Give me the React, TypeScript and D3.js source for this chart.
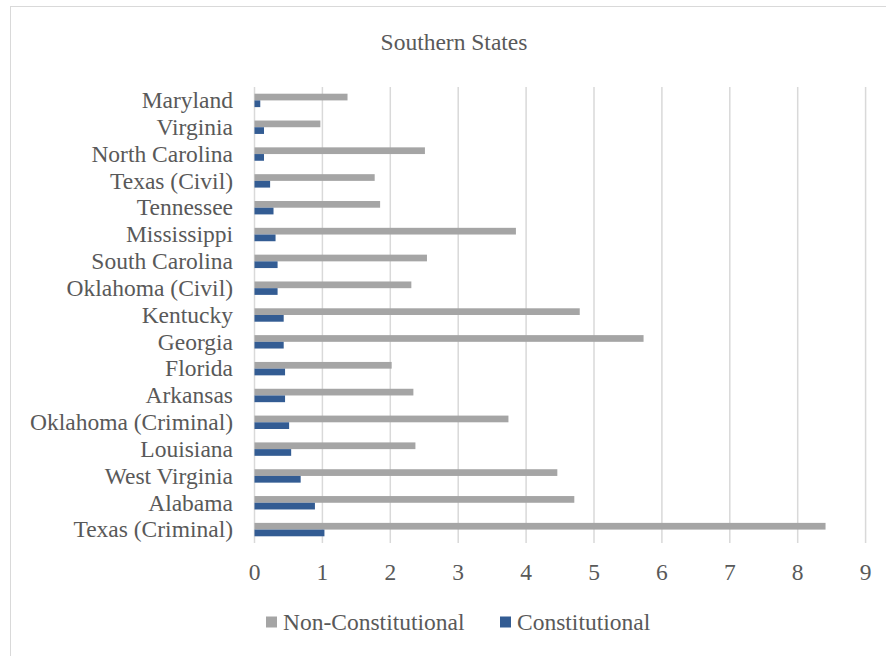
import React, { useRef, useEffect } from 'react';
import * as d3 from 'd3';

// categories listed top to bottom
const states = [
  'Maryland', 'Virginia', 'North Carolina', 'Texas (Civil)', 'Tennessee',
  'Mississippi', 'South Carolina', 'Oklahoma (Civil)', 'Kentucky', 'Georgia',
  'Florida', 'Arkansas', 'Oklahoma (Criminal)', 'Louisiana', 'West Virginia',
  'Alabama', 'Texas (Criminal)'
];
const nonConstitutional = [
  1.37, 0.97, 2.51, 1.77, 1.85, 3.85, 2.54, 2.31, 4.79, 5.73,
  2.02, 2.34, 3.74, 2.37, 4.46, 4.71, 8.41
];
const constitutional = [
  0.085, 0.14, 0.14, 0.23, 0.28, 0.31, 0.34, 0.34, 0.43, 0.43,
  0.45, 0.45, 0.51, 0.54, 0.68, 0.89, 1.03
];
const xTicks = [0, 1, 2, 3, 4, 5, 6, 7, 8, 9];
const seriesNames = ['Non-Constitutional', 'Constitutional'];
const seriesColors = ['#A5A5A5', '#335C93'];

const App = () => {
  const svgRef = useRef<SVGSVGElement>(null);
  const W = 886, H = 656;
  const font = '"Liberation Serif", "Times New Roman", serif';
  const fs = 23.5;

  useEffect(() => {
    const svg = d3.select(svgRef.current);
    svg.selectAll('*').remove();

    // chart frame (only top/left edges visible in the crop)
    svg.append('rect')
      .attr('x', 10.5).attr('y', 6.5)
      .attr('width', W + 20).attr('height', H + 20)
      .attr('fill', 'white').attr('stroke', '#D9D9D9').attr('stroke-width', 1);

    const x = d3.scaleLinear().domain([0, 9]).range([254.5, 865.6]);
    const y = d3.scaleBand().domain(states).range([87, 543]).paddingInner(0.5).paddingOuter(0.25);
    const sub = d3.scaleBand().domain(seriesNames).range([0, y.bandwidth()]);

    // gridlines
    svg.append('g').selectAll('line')
      .data(xTicks)
      .join('line')
      .attr('x1', d => x(d)).attr('x2', d => x(d))
      .attr('y1', 87).attr('y2', 543)
      .attr('stroke', '#D9D9D9').attr('stroke-width', 1.5);

    const data = states.map((s, i) => ({ s, v: [nonConstitutional[i], constitutional[i]] }));

    const groups = svg.append('g').selectAll('g')
      .data(data)
      .join('g')
      .attr('transform', d => `translate(0, ${y(d.s)})`);

    groups.selectAll('rect')
      .data(d => d.v.map((v, k) => ({ v, k })))
      .join('rect')
      .attr('x', x(0))
      .attr('y', d => sub(seriesNames[d.k])!)
      .attr('width', d => x(d.v) - x(0))
      .attr('height', sub.bandwidth())
      .attr('fill', d => seriesColors[d.k]);

    // category labels
    svg.append('g').selectAll('text')
      .data(states)
      .join('text')
      .attr('x', 233)
      .attr('y', d => y(d)! + y.bandwidth() / 2)
      .attr('dy', '0.33em')
      .attr('text-anchor', 'end')
      .attr('font-family', font)
      .attr('font-size', fs)
      .attr('fill', '#595959')
      .text(d => d);

    // x tick labels
    svg.append('g').selectAll('text')
      .data(xTicks)
      .join('text')
      .attr('x', d => x(d))
      .attr('y', 580)
      .attr('text-anchor', 'middle')
      .attr('font-family', font)
      .attr('font-size', fs)
      .attr('fill', '#595959')
      .text(d => d);

    // title
    svg.append('text')
      .attr('x', 454).attr('y', 50)
      .attr('text-anchor', 'middle')
      .attr('font-family', font)
      .attr('font-size', fs)
      .attr('fill', '#595959')
      .text('Southern States');

    // legend
    const legendX = [266, 500];
    const legend = svg.append('g').selectAll('g')
      .data(seriesNames)
      .join('g')
      .attr('transform', (d, i) => `translate(${legendX[i]}, 622)`);
    legend.append('rect')
      .attr('x', 0).attr('y', -5.5)
      .attr('width', 11).attr('height', 11)
      .attr('fill', (d, i) => seriesColors[i]);
    legend.append('text')
      .attr('x', 17).attr('y', 0)
      .attr('dy', '0.33em')
      .attr('font-family', font)
      .attr('font-size', fs)
      .attr('fill', '#595959')
      .text(d => d);
  }, []);

  return (
    <svg ref={svgRef} width={W} height={H}
      style={{ position: 'absolute', left: 0, top: 0, background: 'white' }} />
  );
};

export default App;
